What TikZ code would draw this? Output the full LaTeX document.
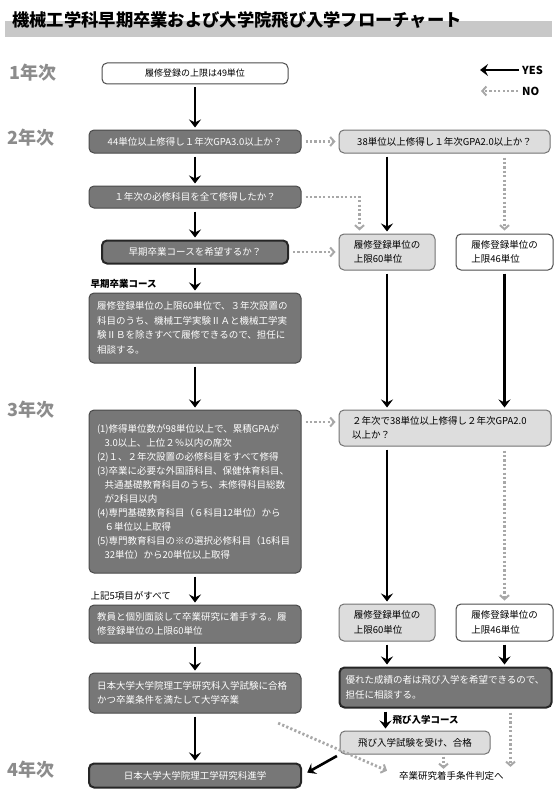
\documentclass[tikz,border=0pt]{standalone}
\usepackage{fontspec}
\setmainfont{Noto Sans CJK JP}
\usepackage{xcolor}
\usetikzlibrary{arrows.meta,positioning,calc}
\definecolor{qfill}{HTML}{777777}
\definecolor{qline}{HTML}{4A4A4A}
\definecolor{pfill}{HTML}{DDDDDD}
\definecolor{nocol}{HTML}{A8A8A8}
\definecolor{barcol}{HTML}{C8C8C8}
\definecolor{yearcol}{HTML}{8C8C8C}

\begin{document}
\begin{tikzpicture}[x=1pt,y=-1pt,
  every node/.style={font=\fontsize{9.5}{14.5}\selectfont},
  box/.style={rounded corners=5pt,line width=1pt,inner ysep=3pt,inner xsep=6pt,align=center},
  qbox/.style={box,draw=qline,fill=qfill,text=white},
  qboxb/.style={qbox,draw=black!85,line width=2pt},
  pbox/.style={box,draw=black!55,fill=pfill},
  wbox/.style={box,draw=black!70,fill=white},
  tag/.style={inner sep=0pt,font=\fontsize{9.5}{12}\selectfont\bfseries},
  year/.style={inner sep=0pt,anchor=west,text=yearcol,font=\fontsize{18}{20}\selectfont\bfseries},
  yesarrow/.style={-{Stealth[length=8pt,width=12pt,inset=3pt]},line width=2.6pt,
                   shorten <=3pt,shorten >=2pt},
  noarrow/.style={-{Straight Barb[length=4pt,width=9pt,line width=2pt]},draw=nocol,
                  line width=2.8pt,dash pattern=on 2.2pt off 2.2pt,shorten <=4pt,shorten >=3pt}]
  \useasboundingbox (0,0) rectangle (556,797);
  % title
  \fill[barcol] (5,21) rectangle (552,37);
  \node[inner sep=0pt,anchor=west,font=\fontsize{17.3}{20}\selectfont\bfseries] (title) at (12,20.5)
    {機械工学科早期卒業および大学院飛び入学フローチャート};
  % years
  \node[year] (y1) at (9,73) {1年次};
  \node[year] (y2) at (7,138) {2年次};
  \node[year] (y3) at (7,410) {3年次};
  \node[year] (y4) at (7,770) {4年次};
  % legend
  \node[tag,anchor=west,font=\fontsize{11}{13}\selectfont\bfseries] (yes) at (522,70) {YES};
  \node[tag,anchor=west,font=\fontsize{11}{13}\selectfont\bfseries] (no) at (522,91) {NO};
  \coordinate[left=44pt of yes.west] (yesend);
  \coordinate[left=44pt of no.west] (noend);
  \draw[yesarrow] (yes.west) -- (yesend);
  \draw[noarrow] (no.west) -- (noend);
  % early graduation column
  \node[wbox,minimum width=186pt,minimum height=21pt,font=\fontsize{9}{12}\selectfont] (b1) at (195,73.5)
    {履修登録の上限は49単位};
  \node[qbox,minimum width=212pt,minimum height=23pt,below=45pt of b1] (b2)
    {44単位以上修得し１年次GPA3.0以上か？};
  \node[qbox,minimum width=212pt,minimum height=22pt,below=32pt of b2] (b3)
    {１年次の必修科目を全て修得したか？};
  \node[qboxb,minimum width=186pt,minimum height=23pt,below=31pt of b3] (b4)
    {早期卒業コースを希望するか？};
  \node[qbox,text width=196pt,inner xsep=8pt,align=left,minimum height=70pt,below=28pt of b4] (b5)
    {履修登録単位の上限60単位で、３年次設置の\\科目のうち、機械工学実験ⅡＡと機械工学実\\験ⅡＢを除きすべて履修できるので、担任に\\相談する。};
  \node[qbox,text width=196pt,inner xsep=8pt,align=left,minimum height=163pt,below=46pt of b5,
        font=\fontsize{9.5}{14}\selectfont] (b6)
    {(1)修得単位数が98単位以上で、累積GPAが\\
     \hspace*{0.8em}3.0以上、上位２％以内の席次\\
     (2)１、２年次設置の必修科目をすべて修得\\
     (3)卒業に必要な外国語科目、保健体育科目、\\
     \hspace*{0.8em}共通基礎教育科目のうち、未修得科目総数\\
     \hspace*{0.8em}が2科目以内\\
     (4)専門基礎教育科目（６科目12単位）から\\
     \hspace*{0.8em}６単位以上取得\\
     (5)専門教育科目の※の選択必修科目（16科目\\
     \hspace*{0.8em}32単位）から20単位以上取得};
  \node[qbox,text width=196pt,inner xsep=8pt,align=left,minimum height=38pt,below=31pt of b6] (b7)
    {教員と個別面談して卒業研究に着手する。履\\修登録単位の上限60単位};
  \node[qbox,text width=196pt,inner xsep=8pt,align=left,minimum height=40pt,below=29pt of b7] (b8)
    {日本大学大学院理工学研究科入学試験に合格\\かつ卒業条件を満たして大学卒業};
  \node[qboxb,minimum width=212pt,minimum height=24pt,below=49pt of b8] (b9)
    {日本大学大学院理工学研究科進学};
  \node[tag,above right=4pt and 2pt of b5.north west] (ecourse) {早期卒業コース};
  \node[tag,font=\fontsize{9.5}{12}\selectfont,above right=4pt and 2pt of b7.north west] (allfive)
    {上記5項目がすべて};
  % credit limit column
  \node[pbox,minimum width=211pt,minimum height=23pt,right=37pt of b2] (r1)
    {38単位以上修得し１年次GPA2.0以上か？};
  \node[pbox,minimum width=96pt,minimum height=36pt,align=left,below right=80pt and 0pt of r1.south west] (r2)
    {履修登録単位の\\上限60単位};
  \node[wbox,minimum width=97pt,minimum height=36pt,align=left,right=20pt of r2] (r3)
    {履修登録単位の\\上限46単位};
  \node[pbox,text width=186pt,inner xsep=13pt,align=left,minimum height=36pt,below right=139pt and 0pt of r2.south west] (r4)
    {２年次で38単位以上修得し２年次GPA2.0\\以上か？};
  \node[pbox,minimum width=96pt,minimum height=37pt,align=left,below right=157pt and 0pt of r4.south west] (r5)
    {履修登録単位の\\上限60単位};
  \node[wbox,minimum width=97pt,minimum height=37pt,align=left,right=20pt of r5] (r6)
    {履修登録単位の\\上限46単位};
  \node[qboxb,text width=200pt,align=left,minimum height=40pt,below right=25pt and 0pt of r5.south west] (r7)
    {優れた成績の者は飛び入学を希望できるので、\\担任に相談する。};
  \node[pbox,minimum width=150pt,minimum height=23pt,below right=22pt and 1pt of r7.south west] (r8)
    {飛び入学試験を受け、合格};
  \node[tag,below right=7pt and 54pt of r7.south west] (jcourse) {飛び入学コース};
  \node[inner sep=1pt,right=96pt of b9] (judge) {卒業研究着手条件判定へ};
  % yes flow
  \draw[yesarrow] (b1) -- (b2);
  \draw[yesarrow] (b2) -- (b3);
  \draw[yesarrow] (b3) -- (b4);
  \draw[yesarrow] (b4) -- (b5);
  \draw[yesarrow] (b5) -- (b6);
  \draw[yesarrow] (b6) -- (b7);
  \draw[yesarrow] (b7) -- (b8);
  \draw[yesarrow] (b8) -- (b9);
  \draw[yesarrow] (r1.south -| r2) -- (r2.north);
  \draw[yesarrow] (r2.south) -- (r2.south |- r4.north);
  \draw[yesarrow] (r3.south) -- (r3.south |- r4.north);
  \draw[yesarrow] (r4.south -| r5) -- (r5.north);
  \draw[yesarrow] (r5.south) -- (r5.south |- r7.north);
  \draw[yesarrow] (r6.south) -- (r6.south |- r7.north);
  \coordinate (jtop) at ([xshift=47pt]r7.south west);
  \draw[yesarrow] (jtop) -- (jtop |- r8.north);
  \draw[yesarrow,shorten >=6pt] (r8.south west) -- (b9.east);
  % no flow
  \coordinate (r4in) at ([yshift=6pt]r4.west);
  \coordinate (ntop) at ([xshift=-42pt]r7.south east);
  \coordinate (mtop) at ([xshift=-47pt]r8.south east);
  \coordinate (dstart) at ([xshift=-27pt,yshift=-8pt]b8.south east);
  \draw[noarrow] (b2) -- (r1);
  \draw[noarrow] (b3.east) -| ([xshift=21pt]r2.north west);
  \draw[noarrow] (b4.east) -- (b4.east -| r2.west);
  \draw[noarrow] (r1.south -| r3) -- (r3.north);
  \draw[noarrow] (r4in -| b6.east) -- (r4in);
  \draw[noarrow] (r4.south -| r6) -- (r6.north);
  \draw[noarrow] (ntop) -- (ntop |- judge.north);
  \draw[noarrow,shorten <=2pt,shorten >=1pt] (mtop) -- (mtop |- judge.north);
  \draw[noarrow,shorten >=12pt] (dstart) -- (judge.west);
\end{tikzpicture}
\end{document}
